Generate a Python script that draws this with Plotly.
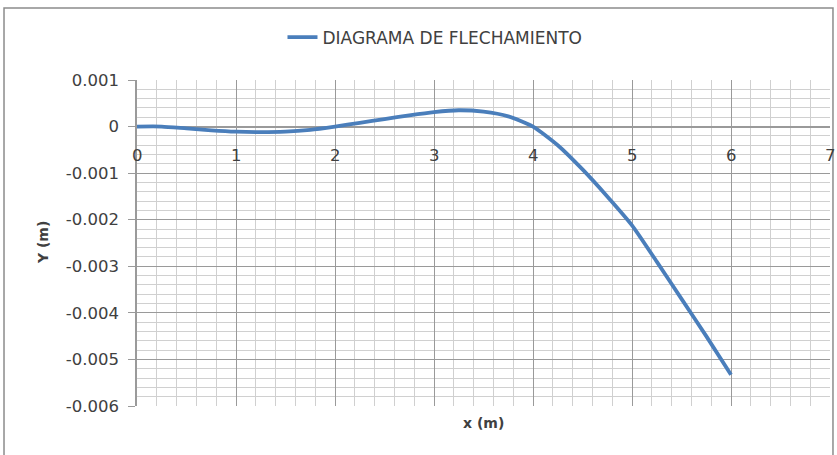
import plotly.graph_objects as go

# Data
x_m = [0, 0.25, 0.5, 0.75, 1, 1.25, 1.5, 1.75, 2, 2.25, 2.5, 2.75, 3, 3.25, 3.5, 3.75,
       4, 4.25, 4.5, 4.75, 5, 5.25, 5.5, 5.75, 6]
y_m = [0, 0, -0.00004, -0.00008, -0.00011, -0.00012, -0.00011, -0.00007, 0, 0.00008,
       0.00016, 0.00024, 0.00031, 0.00035, 0.00032, 0.00022, 0, -0.00040, -0.00092,
       -0.00150, -0.00212, -0.00290, -0.00370, -0.00450, -0.00533]
series_name = "DIAGRAMA DE FLECHAMIENTO"
y_tickvals = [0.001, 0, -0.001, -0.002, -0.003, -0.004, -0.005, -0.006]
y_ticktext = ["0.001", "0", "-0.001", "-0.002", "-0.003", "-0.004", "-0.005", "-0.006"]
x_tickvals = [0, 1, 2, 3, 4, 5, 6, 7]
x_ticktext = ["0", "1", "2", "3", "4", "5", "6", "7"]

FONT = "DejaVu Sans"
TXT = "#404040"
TICK_SIZE = 16.5

fig = go.Figure()
fig.add_trace(go.Scatter(
    x=x_m, y=y_m, mode="lines", name=series_name,
    line=dict(color="#4a7ebb", width=3.8, shape="spline", smoothing=0.6),
))

fig.update_layout(
    width=837, height=455,
    margin=dict(l=137, r=7, t=80, b=49, autoexpand=False),
    paper_bgcolor="white", plot_bgcolor="white",
    font=dict(family=FONT, size=15, color=TXT),
    showlegend=True,
    legend=dict(orientation="h", x=0.43, xanchor="center", y=1.13, yanchor="middle",
                font=dict(family=FONT, size=17, color=TXT), bgcolor="rgba(0,0,0,0)"),
    xaxis=dict(range=[0, 7], showticklabels=False, ticks="",
               tickvals=x_tickvals,
               showgrid=True, gridcolor="#9a9a9a", gridwidth=1,
               minor=dict(dtick=0.2, showgrid=True, gridcolor="#d0d0d0", gridwidth=1),
               zeroline=False, showline=False, fixedrange=True, automargin=False),
    yaxis=dict(range=[-0.006, 0.001], tickvals=y_tickvals, ticktext=y_ticktext,
               ticks="outside", ticklen=7, tickcolor="#9a9a9a",
               ticklabelstandoff=6,
               tickfont=dict(family=FONT, size=TICK_SIZE, color=TXT),
               showgrid=True, gridcolor="#9a9a9a", gridwidth=1,
               minor=dict(dtick=0.0002, showgrid=True, gridcolor="#d0d0d0", gridwidth=1),
               zeroline=True, zerolinecolor="#9a9a9a", zerolinewidth=1.5,
               showline=True, linecolor="#9a9a9a", linewidth=1.5, fixedrange=True,
               automargin=False),
)

# x tick labels next to the axis crossing at y=0
for xv, xt in zip(x_tickvals, x_ticktext):
    fig.add_annotation(x=xv, y=-0.00063, xref="x", yref="y", text=xt, showarrow=False,
                       font=dict(family=FONT, size=TICK_SIZE, color=TXT))

# Axis titles
fig.add_annotation(x=-0.15, y=0.5, xref="paper", yref="paper", text="<b>Y (m)</b>",
                   textangle=-90, showarrow=False, font=dict(family=FONT, size=14, color=TXT))
fig.add_annotation(x=0.5, y=-0.052, xref="paper", yref="paper", text="<b>x (m)</b>",
                   yshift=-10, showarrow=False, font=dict(family=FONT, size=14, color=TXT))

# Chart border
fig.add_shape(type="rect", xref="paper", yref="paper", x0=-0.1919, x1=1.0043,
              y0=-0.166, y1=1.2209, line=dict(color="#8c8c8c", width=1.5), layer="below")

fig.write_html("out.html", config={"displayModeBar": False},
               post_script="document.body.style.margin='0';")
